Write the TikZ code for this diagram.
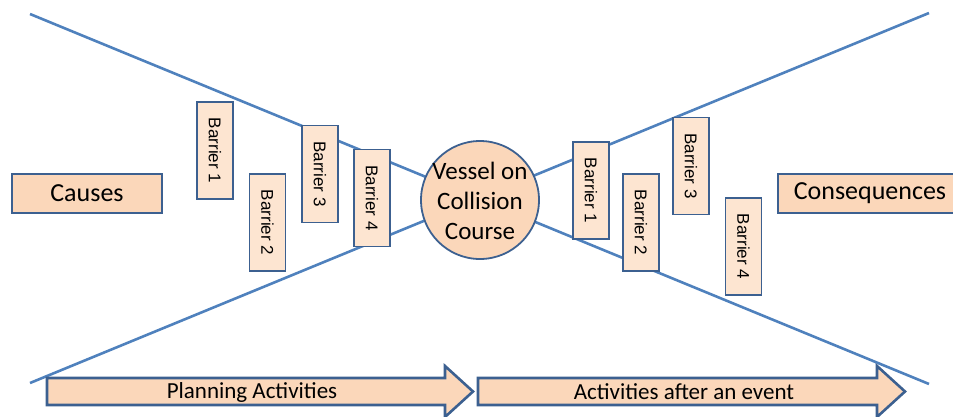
\documentclass[tikz,border=0pt]{standalone}
\usepackage{fontspec}
\setmainfont{Carlito}
\newfontfamily\barrierfont{Liberation Sans}
\definecolor{lineblue}{HTML}{4F81BD}
\definecolor{edgeblue}{HTML}{3C6090}
\definecolor{peach}{HTML}{FBD7BA}
\definecolor{lightpeach}{HTML}{FDE5D1}
\tikzset{
  bigbox/.style={draw=edgeblue, line width=1.5pt, fill=peach, minimum width=150pt, minimum height=39pt, inner sep=0pt, font=\fontsize{26}{30}\selectfont},
  barrierbox/.style={draw=edgeblue, line width=1.5pt, fill=lightpeach, minimum width=36pt, minimum height=97pt, inner sep=0pt},
  barriertext/.style={rotate=-90, inner sep=0pt, font=\barrierfont\fontsize{17}{20}\selectfont},
  crossline/.style={draw=lineblue, line width=2.6pt},
  flowarrow/.style={draw=edgeblue, line width=2.6pt, fill=peach, line join=miter},
  arrowtext/.style={inner sep=0pt, font=\fontsize{23}{28}\selectfont}
}
\begin{document}
\begin{tikzpicture}[x=1pt,y=-1pt]
\useasboundingbox (0,0) rectangle (953,416);
% crossing lines
\coordinate (tl) at (30,14);
\coordinate (br) at (929,384);
\coordinate (tr) at (929,13);
\coordinate (bl) at (30,383);
\draw[crossline] (tl) -- (br);
\draw[crossline] (tr) -- (bl);
% causes / consequences
\node[bigbox] (causes) at (87,193.5) {Causes};
\node[bigbox, minimum width=184pt] (cons) at (870,193.5) {Consequences};
% left barriers
\node[barrierbox] (lb1) at (215,150.5) {};
\node[barriertext] (lb1t) at (lb1) {Barrier 1};
\node[barrierbox] (lb2) at (267.5,222.5) {};
\node[barriertext] (lb2t) at (lb2) {Barrier 2};
\node[barrierbox] (lb3) at (320,174) {};
\node[barriertext] (lb3t) at (lb3) {Barrier 3};
\node[barrierbox] (lb4) at (372,198) {};
\node[barriertext] (lb4t) at (lb4) {Barrier 4};
% right barriers
\node[barrierbox] (rb1) at (591,190.5) {};
\node[barriertext] (rb1t) at (rb1) {Barrier 1};
\node[barrierbox] (rb2) at (641,222.5) {};
\node[barriertext] (rb2t) at (rb2) {Barrier 2};
\node[barrierbox] (rb3) at (691,166) {};
\node[barriertext] (rb3t) at (rb3) {Barrier 3};
\node[barrierbox] (rb4) at (743.5,246.5) {};
\node[barriertext] (rb4t) at (rb4) {Barrier 4};
% central event
\node[circle, draw=edgeblue, line width=1.8pt, fill=peach, minimum size=118pt, inner sep=0pt] (event) at (480,200) {};
\node[align=center, inner sep=0pt, font=\fontsize{25}{30}\selectfont] (eventt) at (480,201) {Vessel on\\Collision\\Course};
% bottom arrows
\draw[flowarrow] (47,378) -- (445,378) -- (445,366) -- (473,391.5) -- (445,417) -- (445,405) -- (47,405) -- cycle;
\node[arrowtext] (plan) at (252,392) {Planning Activities};
\draw[flowarrow] (478,378) -- (877,378) -- (877,366) -- (905,391.5) -- (877,417) -- (877,405) -- (478,405) -- cycle;
\node[arrowtext] (after) at (684,392) {Activities after an event};
\end{tikzpicture}
\end{document}
